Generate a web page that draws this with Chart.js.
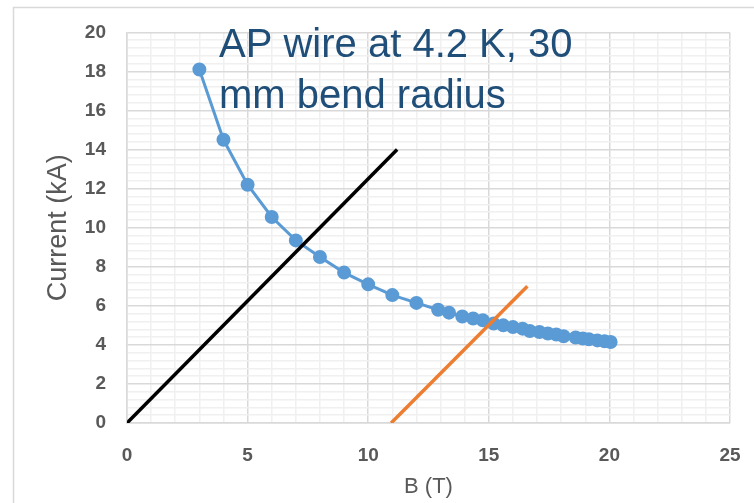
<!DOCTYPE html>
<html>
<head>
<meta charset="utf-8">
<script src="https://cdn.jsdelivr.net/npm/chart.js@4.4.1/dist/chart.umd.min.js"></script>
<style>
  html, body { margin: 0; padding: 0; background: #fff; }
  #wrap { position: relative; width: 754px; height: 503px; }
</style>
</head>
<body>
<div id="wrap"><canvas id="chart" width="754" height="503"></canvas></div>
<script>
// critical current vs field, AP wire
const fieldB = [3, 4, 5, 6, 7, 8, 9, 10, 11, 12, 12.9, 13.35, 13.9, 14.35, 14.75, 15.2, 15.6, 16, 16.4, 16.7, 17.1, 17.45, 17.8, 18.1, 18.6, 18.9, 19.15, 19.5, 19.8, 20.05];
const currentKA = [18.1, 14.5, 12.2, 10.55, 9.35, 8.5, 7.7, 7.1, 6.55, 6.15, 5.8, 5.65, 5.45, 5.35, 5.26, 5.09, 5.0, 4.91, 4.83, 4.71, 4.66, 4.58, 4.53, 4.44, 4.38, 4.33, 4.29, 4.23, 4.18, 4.15];

// load lines
const blackB = [0, 11.2];
const blackI = [0, 14];
const orangeB = [10.95, 16.6];
const orangeI = [0, 7];

const titleLines = ['AP wire at 4.2 K, 30', 'mm bend radius'];

const toPoints = (xs, ys) => xs.map((x, i) => ({ x: x, y: ys[i] }));
const isMajor = (v, step) => Math.abs(v / step - Math.round(v / step)) < 1e-6;

const gray = '#595959';
const font = '"Liberation Sans", Arial, sans-serif';

const annotation = {
    id: 'annotation',
    afterDatasetsDraw(chart) {
        const ctx = chart.ctx;
        const left = chart.chartArea.left;
        ctx.save();
        ctx.fillStyle = '#1F4E79';
        ctx.font = '40px ' + font;
        ctx.textBaseline = 'alphabetic';
        ctx.fillText(titleLines[0], left + 92, 57);
        ctx.fillText(titleLines[1], left + 92, 108);
        ctx.restore();
    },
    beforeDraw(chart) {
        const ctx = chart.ctx;
        ctx.save();
        ctx.strokeStyle = '#d9d9d9';
        ctx.lineWidth = 1.5;
        ctx.beginPath();
        ctx.moveTo(13.5, 503);
        ctx.lineTo(13.5, 7.5);
        ctx.lineTo(754, 7.5);
        ctx.stroke();
        ctx.restore();
    }
};

new Chart(document.getElementById('chart'), {
    type: 'scatter',
    data: {
        datasets: [
            {
                data: toPoints(fieldB, currentKA),
                showLine: true,
                borderColor: '#5B9BD5',
                backgroundColor: '#5B9BD5',
                borderWidth: 3,
                pointRadius: 5.5,
                pointHoverRadius: 5.5,
                order: 2
            },
            {
                data: toPoints(blackB, blackI),
                showLine: true,
                borderColor: '#000000',
                borderWidth: 3.5,
                pointRadius: 0,
                order: 1
            },
            {
                data: toPoints(orangeB, orangeI),
                showLine: true,
                borderColor: '#ED7D31',
                borderWidth: 3.5,
                pointRadius: 0,
                order: 1
            }
        ]
    },
    options: {
        responsive: false,
        animation: false,
        layout: { padding: { left: 0, right: 24, top: 31, bottom: 0 } },
        plugins: {
            legend: { display: false },
            tooltip: { enabled: false }
        },
        scales: {
            x: {
                type: 'linear',
                min: 0,
                max: 25,
                afterFit: s => { s.height = 80; s.paddingRight = 0; s.paddingLeft = 0; },
                ticks: {
                    stepSize: 1,
                    autoSkip: false,
                    maxRotation: 0,
                    padding: 21,
                    color: gray,
                    font: { family: font, size: 19, weight: 'bold' },
                    callback: v => isMajor(v, 5) ? v : ''
                },
                grid: {
                    drawTicks: false,
                    color: c => isMajor(c.tick.value, 5) ? '#d9d9d9' : '#f0f0f0',
                    lineWidth: 1.5
                },
                border: { color: '#d9d9d9', width: 1.5 },
                title: {
                    display: true,
                    text: 'B (T)',
                    color: gray,
                    padding: { top: 0, bottom: 3 },
                    font: { family: font, size: 22 }
                }
            },
            y: {
                type: 'linear',
                min: 0,
                max: 20,
                afterFit: s => { s.width = 127; },
                ticks: {
                    stepSize: 0.4,
                    autoSkip: false,
                    padding: 21,
                    color: gray,
                    font: { family: font, size: 19, weight: 'bold' },
                    callback: v => isMajor(v, 2) ? Math.round(v) : ''
                },
                grid: {
                    drawTicks: false,
                    color: c => isMajor(c.tick.value, 2) ? '#d9d9d9' : '#f0f0f0',
                    lineWidth: 1.5
                },
                border: { color: '#d9d9d9', width: 1.5 },
                title: {
                    display: true,
                    text: 'Current (kA)',
                    color: gray,
                    padding: { top: 42, bottom: 0 },
                    font: { family: font, size: 27 }
                }
            }
        }
    },
    plugins: [annotation]
});
</script>
</body>
</html>
